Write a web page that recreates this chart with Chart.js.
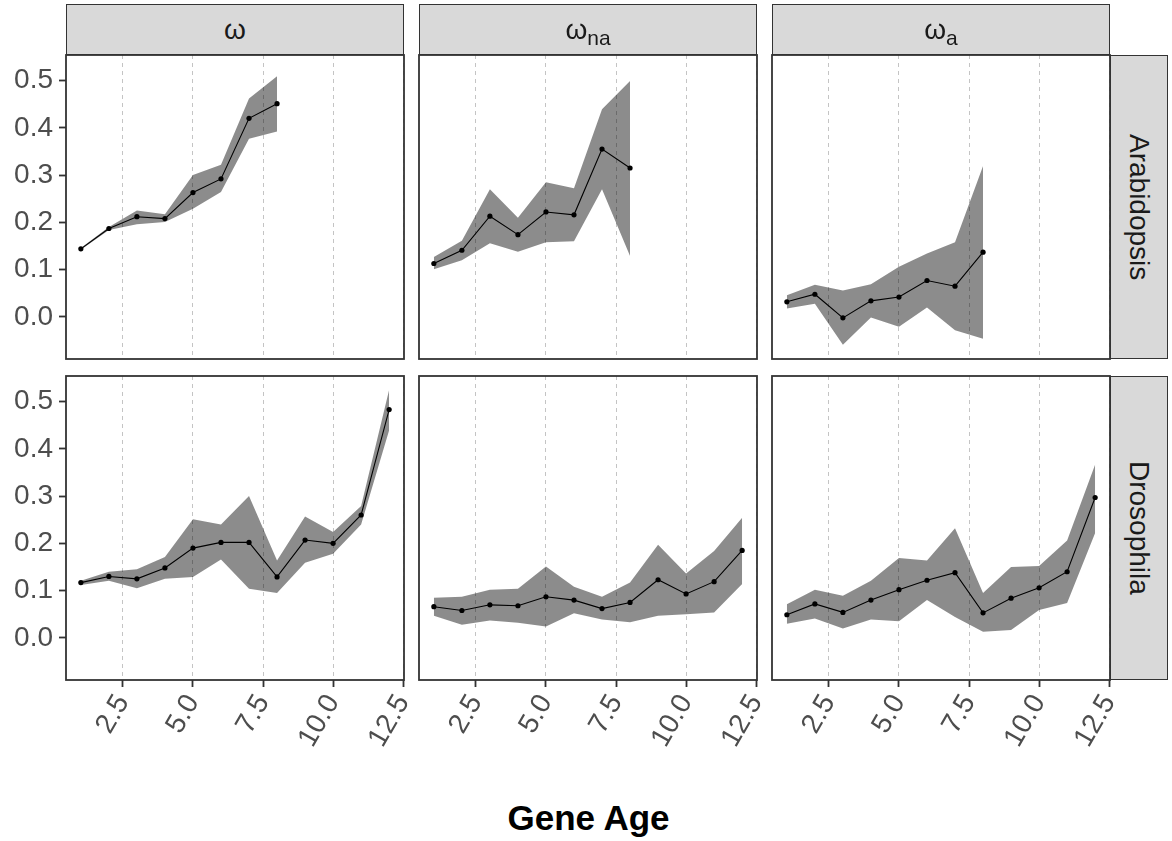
<!DOCTYPE html>
<html>
<head>
<meta charset="utf-8">
<script src="https://cdn.jsdelivr.net/npm/chart.js@4"></script>
<style>
  body { margin: 0; background: #fff; font-family: "Liberation Sans", Arial, sans-serif; }
  #wrap { position: relative; width: 1172px; height: 841px; overflow: hidden; }
  #wrap canvas { position: absolute; }
  .strip { position: absolute; box-sizing: border-box; background: #d9d9d9; border: 1.8px solid #333;
           color: #1a1a1a; font-size: 28px; display: flex; align-items: center; justify-content: center; }
  .strip.side { writing-mode: vertical-rl; }
  .strip sub { font-size: 21px; vertical-align: -6px; line-height: 0; }
  #xtitle { position: absolute; left: 0; width: 1177px; top: 800px; line-height: 35px; text-align: center;
            font-size: 35px; font-weight: bold; color: #000; }
</style>
</head>
<body>
<div id="wrap">
  <div id="xtitle">Gene Age</div>
</div>
<script>
// facets
var facetSymbol = "ω";
var facetSub = ["", "na", "a"];
var species = ["Arabidopsis", "Drosophila"];

// x = gene age, ticks
var geneAge = [1, 2, 3, 4, 5, 6, 7, 8, 9, 10, 11, 12];
var xTicks = [2.5, 5, 7.5, 10, 12.5];
var yTicks = [0, 0.1, 0.2, 0.3, 0.4, 0.5];

// Arabidopsis
var araW    = [0.144, 0.187, 0.212, 0.208, 0.263, 0.292, 0.420, 0.451];
var araWHi  = [0.146, 0.190, 0.225, 0.217, 0.300, 0.322, 0.462, 0.509];
var araWLo  = [0.142, 0.184, 0.196, 0.201, 0.229, 0.264, 0.377, 0.392];
var araNa   = [0.113, 0.141, 0.213, 0.174, 0.222, 0.216, 0.355, 0.315];
var araNaHi = [0.127, 0.161, 0.270, 0.210, 0.285, 0.272, 0.439, 0.499];
var araNaLo = [0.101, 0.120, 0.156, 0.138, 0.158, 0.160, 0.270, 0.129];
var araA    = [0.032, 0.048, -0.002, 0.034, 0.042, 0.077, 0.065, 0.137];
var araAHi  = [0.046, 0.068, 0.056, 0.069, 0.106, 0.134, 0.158, 0.319];
var araALo  = [0.018, 0.028, -0.059, -0.001, -0.021, 0.020, -0.028, -0.046];

// Drosophila
var droW    = [0.117, 0.130, 0.125, 0.148, 0.190, 0.202, 0.202, 0.129, 0.207, 0.200, 0.260, 0.483];
var droWHi  = [0.121, 0.140, 0.145, 0.171, 0.251, 0.240, 0.300, 0.164, 0.257, 0.224, 0.279, 0.525];
var droWLo  = [0.112, 0.121, 0.105, 0.125, 0.129, 0.166, 0.104, 0.095, 0.159, 0.178, 0.240, 0.439];
var droNa   = [0.066, 0.058, 0.070, 0.068, 0.087, 0.080, 0.062, 0.075, 0.123, 0.093, 0.119, 0.185];
var droNaHi = [0.085, 0.087, 0.102, 0.104, 0.151, 0.108, 0.087, 0.117, 0.197, 0.136, 0.184, 0.254];
var droNaLo = [0.047, 0.028, 0.037, 0.032, 0.024, 0.052, 0.039, 0.033, 0.047, 0.050, 0.054, 0.114];
var droA    = [0.049, 0.072, 0.054, 0.080, 0.102, 0.122, 0.138, 0.053, 0.084, 0.106, 0.140, 0.297];
var droAHi  = [0.071, 0.102, 0.089, 0.121, 0.169, 0.164, 0.232, 0.095, 0.150, 0.152, 0.206, 0.367];
var droALo  = [0.030, 0.041, 0.020, 0.039, 0.035, 0.080, 0.044, 0.013, 0.017, 0.059, 0.074, 0.222];

var panels = [
  [[araW, araWLo, araWHi], [araNa, araNaLo, araNaHi], [araA, araALo, araAHi]],
  [[droW, droWLo, droWHi], [droNa, droNaLo, droNaHi], [droA, droALo, droAHi]]
];

// layout (px)
var colLeft = [66, 419, 772];
var panelW = 338;
var rowTop = [55, 376];
var panelH = 304;
var xAxisH = 95;

var tickFont = { family: "'Liberation Sans', Arial, sans-serif", size: 28 };

var framePlugin = {
  id: "frame",
  afterDraw: function (chart) {
    var a = chart.chartArea, ctx = chart.ctx;
    ctx.save();
    ctx.strokeStyle = "#333333";
    ctx.lineWidth = 1.8;
    ctx.strokeRect(a.left, a.top, a.right - a.left, a.bottom - a.top);
    ctx.restore();
  }
};

function toPoints(vals) {
  return vals.map(function (v, i) { return { x: geneAge[i], y: v }; });
}

var wrap = document.getElementById("wrap");

function makePanel(r, c) {
  var d = panels[r][c];
  var padL = c === 0 ? 0 : 4;
  var padT = 4;
  var padR = r === 1 ? 16 : 4;
  var padB = r === 0 ? 4 : 0;
  var cl = c === 0 ? 0 : colLeft[c] - padL;
  var ct = rowTop[r] - padT;
  var cw = colLeft[c] + panelW + padR - cl;
  var ch = r === 1 ? rowTop[r] + panelH + xAxisH - ct : panelH + padT + padB;

  var canvas = document.createElement("canvas");
  canvas.width = cw;
  canvas.height = ch;
  canvas.style.left = cl + "px";
  canvas.style.top = ct + "px";
  wrap.appendChild(canvas);

  var bottomRow = r === 1;
  var leftCol = c === 0;

  new Chart(canvas.getContext("2d"), {
    type: "line",
    data: {
      datasets: [
        {
          data: toPoints(d[0]),
          borderColor: "#000000",
          borderWidth: 1.1,
          pointRadius: 2.6,
          pointBackgroundColor: "#000000",
          pointBorderWidth: 0,
          fill: false,
          tension: 0,
          order: 0
        },
        {
          data: toPoints(d[2]),
          borderWidth: 0,
          pointRadius: 0,
          backgroundColor: "rgba(0,0,0,0.45)",
          fill: "+1",
          tension: 0,
          order: 1
        },
        {
          data: toPoints(d[1]),
          borderWidth: 0,
          pointRadius: 0,
          fill: false,
          tension: 0,
          order: 2
        }
      ]
    },
    options: {
      responsive: false,
      animation: false,
      events: [],
      layout: { padding: { left: padL, top: padT, right: padR, bottom: padB } },
      plugins: { legend: { display: false }, tooltip: { enabled: false } },
      scales: {
        x: {
          type: "linear",
          min: 0.47,
          max: 12.53,
          afterBuildTicks: function (s) { s.ticks = xTicks.map(function (v) { return { value: v }; }); },
          afterFit: function (s) {
            s.height = bottomRow ? xAxisH : 0;
            s.paddingLeft = 0;
            s.paddingRight = 0;
          },
          border: { display: false, dash: [4, 4] },
          grid: {
            display: true,
            drawOnChartArea: true,
            color: "#c4c4c4",
            lineWidth: 1,
            drawTicks: bottomRow,
            tickLength: 7,
            tickColor: "#333333",
            tickWidth: 1.8,
            tickBorderDash: [1, 0]
          },
          ticks: {
            display: bottomRow,
            autoSkip: false,
            maxRotation: 60,
            minRotation: 60,
            padding: 2,
            color: "#4d4d4d",
            font: tickFont,
            callback: function (v) { return v.toFixed(1); }
          }
        },
        y: {
          type: "linear",
          min: -0.089,
          max: 0.554,
          display: leftCol,
          afterBuildTicks: function (s) { s.ticks = yTicks.map(function (v) { return { value: v }; }); },
          afterFit: function (s) {
            s.width = leftCol ? colLeft[0] : 0;
            s.paddingTop = 0;
            s.paddingBottom = 0;
          },
          border: { display: false },
          grid: {
            display: true,
            drawOnChartArea: false,
            drawTicks: true,
            tickLength: 7,
            tickColor: "#333333",
            tickWidth: 1.8
          },
          ticks: {
            padding: 6,
            color: "#4d4d4d",
            font: tickFont,
            callback: function (v) { return v.toFixed(1); }
          }
        }
      }
    },
    plugins: [framePlugin]
  });
}

for (var r = 0; r < 2; r++) {
  for (var c = 0; c < 3; c++) makePanel(r, c);
}

// facet strips
facetSub.forEach(function (sub, c) {
  var s = document.createElement("div");
  s.className = "strip";
  s.style.left = colLeft[c] + "px";
  s.style.top = "4px";
  s.style.width = panelW + "px";
  s.style.height = "51px";
  s.innerHTML = "<span>" + facetSymbol + (sub ? "<sub>" + sub + "</sub>" : "") + "</span>";
  wrap.appendChild(s);
});
species.forEach(function (name, r) {
  var s = document.createElement("div");
  s.className = "strip side";
  s.style.left = (colLeft[2] + panelW) + "px";
  s.style.top = rowTop[r] + "px";
  s.style.width = "58px";
  s.style.height = panelH + "px";
  s.textContent = name;
  wrap.appendChild(s);
});
</script>
</body>
</html>
